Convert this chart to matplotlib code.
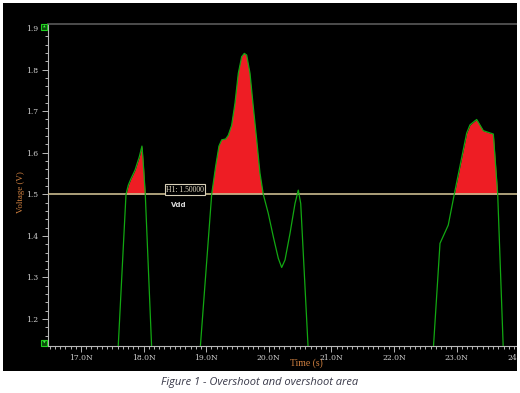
import matplotlib
matplotlib.use("Agg")
import matplotlib.pyplot as plt
import matplotlib.patches as mpatches
from matplotlib.ticker import MultipleLocator, FormatStrFormatter, FuncFormatter
import numpy as np

# waveform (time in ns, voltage in V)
t_pulse1 = [17.59, 17.719, 17.756, 17.794, 17.863, 17.931, 17.974, 17.995, 18.027, 18.132]
v_pulse1 = [1.12, 1.50, 1.522, 1.536, 1.558, 1.590, 1.616, 1.575, 1.50, 1.12]

t_pulse2 = [18.90, 19.088, 19.152, 19.204, 19.248, 19.311, 19.353, 19.407, 19.460, 19.513,
            19.567, 19.609, 19.647, 19.700, 19.752, 19.807, 19.859, 19.912, 19.992, 20.072,
            20.152, 20.206, 20.259, 20.339, 20.419, 20.471, 20.510, 20.551, 20.632]
v_pulse2 = [1.12, 1.50, 1.568, 1.616, 1.631, 1.633, 1.642, 1.666, 1.719, 1.791,
            1.831, 1.839, 1.835, 1.791, 1.711, 1.631, 1.551, 1.50, 1.454, 1.398,
            1.346, 1.324, 1.342, 1.406, 1.478, 1.510, 1.478, 1.358, 1.12]

t_pulse3 = [22.625, 22.735, 22.867, 22.963, 23.161, 23.214, 23.321, 23.427, 23.587, 23.657, 23.748]
v_pulse3 = [1.12, 1.382, 1.426, 1.50, 1.647, 1.667, 1.680, 1.653, 1.645, 1.50, 1.12]

vdd = 1.5
x_ticks = [17, 18, 19, 20, 21, 22, 23, 24]
y_ticks = [1.2, 1.3, 1.4, 1.5, 1.6, 1.7, 1.8, 1.9]

W, H = 520, 393
fig = plt.figure(figsize=(W / 100, H / 100), dpi=100, facecolor="white")

# black screenshot area, behind the axes
fig.patches.append(mpatches.Rectangle((3 / W, 1 - 371 / H), 514 / W, 368 / H,
                                      transform=fig.transFigure, facecolor="black",
                                      edgecolor="none", zorder=-5))

ax = fig.add_axes([48 / W, 1 - 345.7 / H, (522 - 48) / W, (345.7 - 24) / H])
ax.set_zorder(1)
ax.set_facecolor("black")
ax.set_xlim(16.473, 24.045)
ax.set_ylim(1.1358, 1.9097)

for t, v in [(t_pulse1, v_pulse1), (t_pulse2, v_pulse2), (t_pulse3, v_pulse3)]:
    t = np.array(t)
    v = np.array(v)
    ax.fill_between(t, v, vdd, where=v >= vdd, interpolate=True,
                    color="#ee1d24", linewidth=0, zorder=2)
    ax.plot(t, v, color="#12a812", linewidth=0.9, zorder=4)

ax.axhline(vdd, color="#c9bb8e", linewidth=1.2, zorder=3)

# axes styling
axis_col = "#b8b8b8"
ax.spines["left"].set_color(axis_col)
ax.spines["bottom"].set_color(axis_col)
ax.spines["top"].set_color("#5a5a5a")
ax.spines["top"].set_linewidth(1.2)
ax.spines["right"].set_visible(False)

ax.set_xticks(x_ticks)
ax.set_yticks(y_ticks)
ax.xaxis.set_minor_locator(MultipleLocator(1 / 12))
ax.yaxis.set_minor_locator(MultipleLocator(0.02))
ax.xaxis.set_major_formatter(FuncFormatter(lambda x, p: f"{x:.1f}N"))
ax.yaxis.set_major_formatter(FormatStrFormatter("%.1f"))
ax.tick_params(which="both", colors=axis_col, direction="out", width=0.7)
ax.tick_params(which="major", length=4)
ax.tick_params(which="minor", length=2)
ax.tick_params(axis="x", which="major", labelsize=5.5, pad=2)
ax.tick_params(axis="y", which="major", labelsize=5.5, pad=3)
for lab in ax.get_xticklabels() + ax.get_yticklabels():
    lab.set_family("DejaVu Serif")
    lab.set_color("#d0d0d0")

fig.text(21 / W, 1 - 192 / H, "Voltage (V)", rotation=90, ha="center", va="center",
         color="#d08040", fontsize=6.5, family="Liberation Serif")
fig.text(306 / W, 1 - 363 / H, "Time (s)", ha="center", va="center",
         color="#d08040", fontsize=7, family="Liberation Serif")

# marker label on the Vdd line
fig.text(185 / W, 1 - 189.5 / H, "H1: 1.50000", ha="center", va="center",
         color="#e8e0c8", fontsize=5.5, family="Liberation Serif", zorder=6,
         bbox=dict(boxstyle="square,pad=0.15", facecolor="black",
                   edgecolor="#d8d0b8", linewidth=0.8))
fig.text(179 / W, 1 - 205 / H, "Vdd", ha="center", va="center", zorder=6,
         color="#d8d8d8", fontsize=5, family="DejaVu Sans", weight="bold")

# little green scroll markers on the left
for ytop in (24, 340):
    fig.patches.append(mpatches.Rectangle((41 / W, 1 - (ytop + 6) / H), 6 / W, 6 / H,
                                          transform=fig.transFigure, facecolor="#0a4a0a",
                                          edgecolor="#20d020", linewidth=0.8, zorder=5))
fig.text(44 / W, 1 - 27 / H, "▲", ha="center", va="center", color="#40ff40",
         fontsize=2.5, zorder=6)
fig.text(44 / W, 1 - 343 / H, "▼", ha="center", va="center", color="#40ff40",
         fontsize=2.5, zorder=6)

# white margin on the right cuts the last tick label like in the screenshot
fig.patches.append(mpatches.Rectangle((517 / W, 0), 3 / W, 1, transform=fig.transFigure,
                                      facecolor="white", edgecolor="none", zorder=10))

fig.text(0.5, 1 - 383 / H, "Figure 1 - Overshoot and overshoot area", ha="center",
         va="center", color="#3a3a4a", fontsize=8, style="italic", family="Open Sans")

fig.savefig("out.png", dpi=100, facecolor="white")
